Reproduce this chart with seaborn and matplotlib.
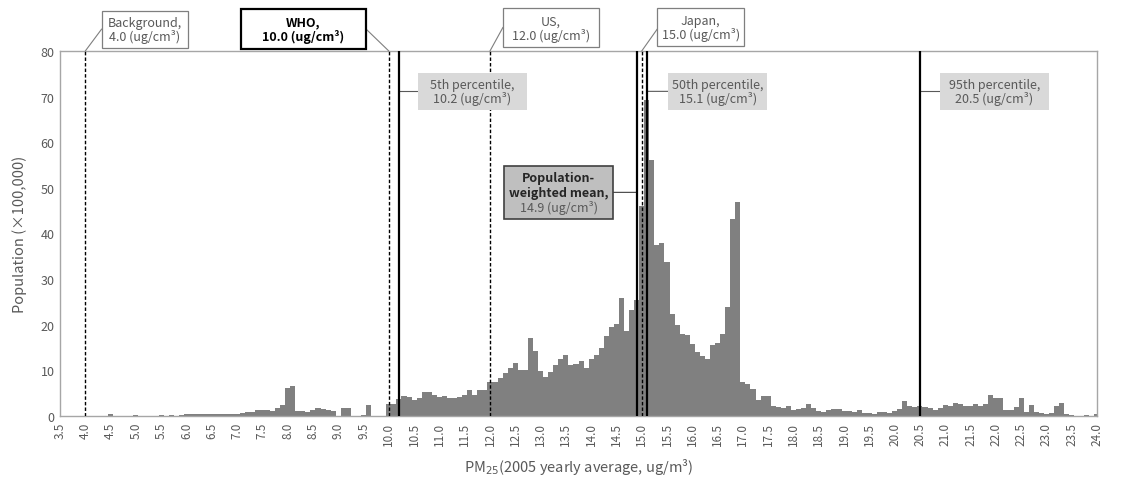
import numpy as np
import pandas as pd
import matplotlib
matplotlib.use("Agg")
import matplotlib.pyplot as plt
from matplotlib.patches import Rectangle
import seaborn as sns

# ---------------- data ----------------
bin_start = 3.5
bin_width = 0.1
population = [
    # 3.5 - 4.4
    0, 0, 0, 0, 0, 0, 0, 0, 0, 0,
    # 4.5 - 5.4
    0.5, 0.1, 0, 0, 0, 0.2, 0, 0, 0, 0,
    # 5.5 - 6.4
    0.2, 0, 0.3, 0, 0.3, 0.35, 0.35, 0.35, 0.35, 0.35,
    # 6.5 - 7.4
    0.4, 0.35, 0.35, 0.35, 0.4, 0.5, 0.7, 0.9, 0.8, 1.3,
    # 7.5 - 8.4
    1.3, 1.3, 1.0, 1.7, 2.4, 6.1, 6.6, 1.0, 1.0, 0.8,
    # 8.5 - 9.4
    1.4, 1.7, 1.6, 1.3, 1.0, 0, 1.7, 1.7, 0, 0,
    # 9.5 - 10.4
    0.3, 2.4, 0, 0, 0, 2.6, 2.6, 3.7, 4.3, 4.1,
    # 10.5 - 11.4
    3.5, 4.0, 5.3, 5.3, 4.6, 4.2, 4.3, 3.9, 3.9, 4.2,
    # 11.5 - 12.4
    4.7, 5.6, 4.5, 5.8, 5.8, 7.4, 7.4, 8.3, 9.5, 10.5,
    # 12.5 - 13.4
    11.6, 10.1, 10.1, 17.2, 14.3, 9.9, 8.5, 9.6, 11.2, 12.6,
    # 13.5 - 14.4
    13.3, 11.2, 11.5, 12.1, 10.6, 12.4, 13.3, 14.8, 17.5, 19.6,
    # 14.5 - 15.4
    20.1, 25.8, 18.6, 23.3, 25.5, 46.1, 69.3, 56.2, 37.5, 37.9,
    # 15.5 - 16.4
    33.7, 22.3, 20.0, 18.0, 17.8, 15.8, 14.1, 13.1, 12.5, 15.6,
    # 16.5 - 17.4
    16.1, 18.0, 23.8, 43.2, 47.0, 7.5, 7.0, 6.0, 3.5, 4.3,
    # 17.5 - 18.4
    4.3, 2.1, 1.9, 1.8, 2.1, 1.4, 1.5, 1.7, 2.7, 1.7,
    # 18.5 - 19.4
    1.1, 0.95, 1.3, 1.5, 1.5, 1.0, 1.1, 0.9, 1.3, 0.6,
    # 19.5 - 20.4
    0.6, 0.4, 0.8, 0.8, 0.65, 1.2, 1.5, 3.2, 2.2, 1.9,
    # 20.5 - 21.4
    2.2, 1.9, 1.7, 1.4, 1.7, 2.4, 2.1, 2.8, 2.6, 2.1,
    # 21.5 - 22.4
    2.1, 2.6, 2.3, 2.6, 4.5, 3.9, 4.0, 1.4, 1.4, 1.9,
    # 22.5 - 23.4
    3.9, 0.95, 2.4, 0.95, 0.6, 0.4, 0.6, 2.1, 2.8, 0.45,
    # 23.5 - 24.0
    0.2, 0, 0, 0.3, 0, 0.5,
]
pm_centers = np.round(bin_start + bin_width * np.arange(len(population)), 1)

ref_names = ["Background,", "WHO,", "US,", "Japan,"]
ref_values = [4.0, 10.0, 12.0, 15.0]
pct_names = ["5th percentile,", "50th percentile,", "95th percentile,"]
pct_values = [10.2, 15.1, 20.5]
mean_value = 14.9

x_ticks = np.round(np.arange(3.5, 24.01, 0.5), 1)
x_tick_labels = [f"{v:.1f}" for v in x_ticks]
y_ticks = [0, 10, 20, 30, 40, 50, 60, 70, 80]

# ---------------- style ----------------
sns.set_theme(style="white")
plt.rcParams["font.family"] = ["Noto Sans CJK JP", "DejaVu Sans"]
GRAY_TXT = "#595959"
W, H = 1132, 481
AX_L, AX_R, AX_T, AX_B = 60, 1097, 52, 417

fig = plt.figure(figsize=(W / 100, H / 100), dpi=100)
ax = fig.add_axes([AX_L / W, (H - AX_B) / H, (AX_R - AX_L) / W, (AX_B - AX_T) / H])

df = pd.DataFrame({"pm": pm_centers, "pop": population})
sns.histplot(data=df, x="pm", weights="pop", binwidth=bin_width,
             binrange=(bin_start - bin_width / 2, pm_centers[-1] + bin_width / 2),
             color="#808080", alpha=1.0, linewidth=0, ax=ax)

ax.set_xlim(3.5, 24.0)
ax.set_ylim(0, 80)
ax.set_xticks(x_ticks)
ax.set_xticklabels(x_tick_labels, rotation=90, fontsize=8.5, color=GRAY_TXT)
ax.set_yticks(y_ticks)
ax.set_yticklabels([str(v) for v in y_ticks], fontsize=9, color=GRAY_TXT)
ax.tick_params(axis="both", length=0, pad=4)
for s in ax.spines.values():
    s.set_color("#a6a6a6")
    s.set_linewidth(1.0)
ax.set_ylabel("Population (×100,000)", fontsize=10.5, color=GRAY_TXT, labelpad=10)
ax.set_xlabel("PM$_{25}$(2005 yearly average, ug/m³)", fontsize=10.5,
              color=GRAY_TXT, labelpad=8)

for v in ref_values:
    ax.axvline(v, color="black", lw=1.0, ls=(0, (2.5, 1.5)), zorder=4)
for v in pct_values + [mean_value]:
    ax.axvline(v, color="black", lw=1.6, zorder=5)


# ---------------- annotations (layout in pixel space of the figure) ----------------
def fx(px):
    return (px - AX_L) / (AX_R - AX_L)


def fy(py):
    return (AX_B - py) / (AX_B - AX_T)


def box(x0, x1, y0, y1, fc, ec, lw):
    ax.add_patch(Rectangle((fx(x0), fy(y1)), fx(x1) - fx(x0), fy(y0) - fy(y1),
                           transform=ax.transAxes, fc=fc, ec=ec if ec else "none",
                           lw=lw, clip_on=False, zorder=6))


def lines_in_box(x0, x1, y0, y1, texts, colors, weights, fs=9, step=13.5):
    cx = (x0 + x1) / 2
    cy = (y0 + y1) / 2
    n = len(texts)
    for i, (t, c, w) in enumerate(zip(texts, colors, weights)):
        py = cy + (i - (n - 1) / 2) * step
        ax.text(fx(cx), fy(py), t, transform=ax.transAxes, ha="center", va="center",
                fontsize=fs, color=c, fontweight=w, zorder=7)


def leader(x_data, y_data, px, py, color):
    ax.annotate("", xy=(x_data, y_data), xycoords="data",
                xytext=(fx(px), fy(py)), textcoords="axes fraction",
                annotation_clip=False,
                arrowprops=dict(arrowstyle="-", color=color, lw=0.8,
                                shrinkA=0, shrinkB=0), zorder=3)


# reference standards above the plot
ref_boxes = [(101.7, 188.0, 11.7, 49.0), (241.0, 366.0, 10.0, 50.0),
             (503.0, 599.0, 9.3, 48.3), (657.3, 744.3, 9.3, 47.3)]
ref_anchor = [(101.7, 30.0), (366.0, 30.0), (503.0, 28.3), (657.3, 30.0)]
for name, v, (x0, x1, y0, y1), (ax_px, ay_px) in zip(ref_names, ref_values, ref_boxes, ref_anchor):
    is_who = name.startswith("WHO")
    box(x0, x1, y0, y1, "white", "black" if is_who else "#7f7f7f", 1.6 if is_who else 0.9)
    col = "black" if is_who else GRAY_TXT
    wt = "bold" if is_who else "normal"
    lines_in_box(x0, x1, y0, y1, [name, f"{v:.1f} (ug/cm³)"], [col, col], [wt, wt])
    leader(v, 80, ax_px, ay_px, "#7f7f7f")

# percentiles inside the plot
pct_boxes = [(417.7, 527.3, 74.0, 111.0), (668.3, 767.3, 74.0, 110.7),
             (940.0, 1049.0, 74.0, 111.0)]
for name, v, (x0, x1, y0, y1) in zip(pct_names, pct_values, pct_boxes):
    box(x0, x1, y0, y1, "#d9d9d9", None, 0)
    lines_in_box(x0, x1, y0, y1, [name, f"{v:.1f} (ug/cm³)"], [GRAY_TXT] * 2,
                 ["normal"] * 2)
    ymid = (y0 + y1) / 2
    leader(v, (AX_B - ymid) / (AX_B - AX_T) * 80, x0, ymid, "#595959")

# population-weighted mean
mb = (504.0, 613.3, 166.7, 220.0)
box(*mb, "#bfbfbf", "#404040", 1.2)
lines_in_box(*mb, ["Population-", "weighted mean,", f"{mean_value:.1f} (ug/cm³)"],
             ["#262626", "#262626", GRAY_TXT], ["bold", "bold", "normal"], step=14.5)
ymid = (mb[2] + mb[3]) / 2
leader(mean_value, (AX_B - ymid) / (AX_B - AX_T) * 80, mb[1], ymid, "#404040")

fig.savefig("out.png", dpi=100)
